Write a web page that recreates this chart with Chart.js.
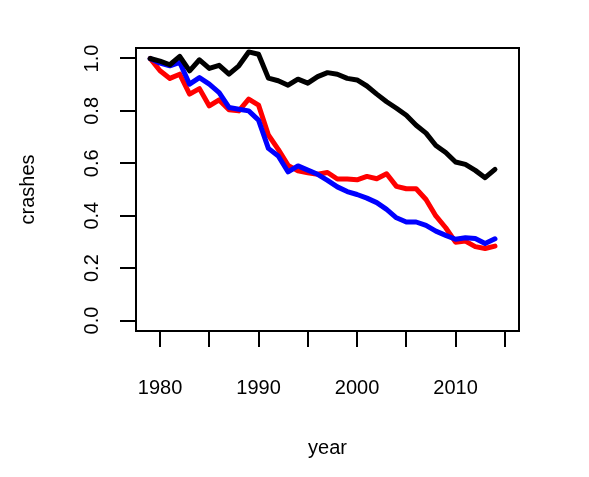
<!DOCTYPE html>
<html>
<head>
<meta charset="utf-8">
<script src="https://cdn.jsdelivr.net/npm/chart.js@4"></script>
<style>
  body { margin: 0; background: #fff; }
  #wrap { width: 589px; height: 477px; }
</style>
</head>
<body>
<div id="wrap"><canvas id="grafico"></canvas></div>
<script>
const years = [1979, 1980, 1981, 1982, 1983, 1984, 1985, 1986, 1987, 1988, 1989, 1990,
    1991, 1992, 1993, 1994, 1995, 1996, 1997, 1998, 1999, 2000, 2001, 2002,
    2003, 2004, 2005, 2006, 2007, 2008, 2009, 2010, 2011, 2012, 2013, 2014];
const black = [1.0, 0.99, 0.976, 1.008, 0.953, 0.995, 0.962, 0.974, 0.94, 0.972, 1.025, 1.016,
    0.925, 0.915, 0.898, 0.921, 0.906, 0.931, 0.946, 0.94, 0.924, 0.918, 0.895, 0.864,
    0.835, 0.81, 0.783, 0.745, 0.715, 0.668, 0.641, 0.605, 0.596, 0.573, 0.545, 0.577];
const red = [1.0, 0.953, 0.924, 0.94, 0.864, 0.885, 0.819, 0.842, 0.804, 0.80, 0.845, 0.822,
    0.708, 0.653, 0.592, 0.571, 0.564, 0.558, 0.565, 0.54, 0.54, 0.537, 0.55, 0.541,
    0.56, 0.512, 0.503, 0.503, 0.462, 0.399, 0.354, 0.299, 0.303, 0.282, 0.275, 0.284];
const blue = [1.0, 0.982, 0.972, 0.985, 0.902, 0.927, 0.902, 0.87, 0.813, 0.806, 0.80, 0.765,
    0.657, 0.628, 0.567, 0.59, 0.574, 0.558, 0.535, 0.51, 0.492, 0.481, 0.467, 0.45,
    0.424, 0.392, 0.376, 0.376, 0.363, 0.341, 0.325, 0.31, 0.316, 0.313, 0.294, 0.312];
const xTicks = [1980, 1985, 1990, 1995, 2000, 2005, 2010, 2015];
const yTicks = [0, 0.2, 0.4, 0.6, 0.8, 1.0];

const pts = vals => vals.map((v, i) => ({ x: years[i], y: v }));
const fonte = '20px "Liberation Sans", Arial, sans-serif';

// R-like box, rotated y labels and axis titles
const estiloR = {
    id: 'estiloR',
    afterDraw(chart) {
        const { ctx, chartArea: a, scales: { x, y } } = chart;
        ctx.save();
        ctx.strokeStyle = '#000';
        ctx.lineWidth = 2;
        ctx.strokeRect(a.left, a.top, a.right - a.left, a.bottom - a.top);
        ctx.fillStyle = '#000';
        ctx.font = fonte;
        ctx.textAlign = 'center';
        ctx.textBaseline = 'middle';
        x.ticks.forEach(t => {
            if (t.value % 10 === 0) ctx.fillText(String(t.value), x.getPixelForValue(t.value), 388);
        });
        y.ticks.forEach(t => {
            ctx.save();
            ctx.translate(92, y.getPixelForValue(t.value));
            ctx.rotate(-Math.PI / 2);
            ctx.fillText(t.value.toFixed(1), 0, 0);
            ctx.restore();
        });
        ctx.fillText('year', (a.left + a.right) / 2, 448);
        ctx.save();
        ctx.translate(28, (a.top + a.bottom) / 2);
        ctx.rotate(-Math.PI / 2);
        ctx.fillText('crashes', 0, 0);
        ctx.restore();
        ctx.restore();
    }
};

const linha = (dados, cor) => ({
    data: pts(dados),
    borderColor: cor,
    borderWidth: 5,
    pointRadius: 0,
    tension: 0,
    borderCapStyle: 'round',
    borderJoinStyle: 'round',
    fill: false,
});

const eixo = {
    grid: { drawOnChartArea: false, drawTicks: true, tickLength: 16, lineWidth: 2, tickWidth: 2, tickColor: '#000' },
    border: { display: false },
    ticks: { display: false },
};

new Chart(document.getElementById('grafico'), {
    type: 'line',
    data: {
        datasets: [
            linha(black, '#000000'),
            linha(blue, '#0000ff'),
            linha(red, '#ff0000'),
        ]
    },
    options: {
        responsive: true,
        maintainAspectRatio: false,
        animation: false,
        layout: { padding: { top: 48, right: 70, left: 0, bottom: 0 } },
        plugins: { legend: { display: false }, tooltip: { enabled: false } },
        scales: {
            x: {
                ...eixo,
                type: 'linear',
                min: 1977.56,
                max: 2016.44,
                afterBuildTicks: s => { s.ticks = xTicks.map(v => ({ value: v })); },
                afterFit: s => { s.height = 146; },
            },
            y: {
                ...eixo,
                min: -0.04,
                max: 1.04,
                afterBuildTicks: s => { s.ticks = yTicks.map(v => ({ value: v })); },
                afterFit: s => { s.width = 136; },
            }
        }
    },
    plugins: [estiloR]
});
</script>
</body>
</html>
